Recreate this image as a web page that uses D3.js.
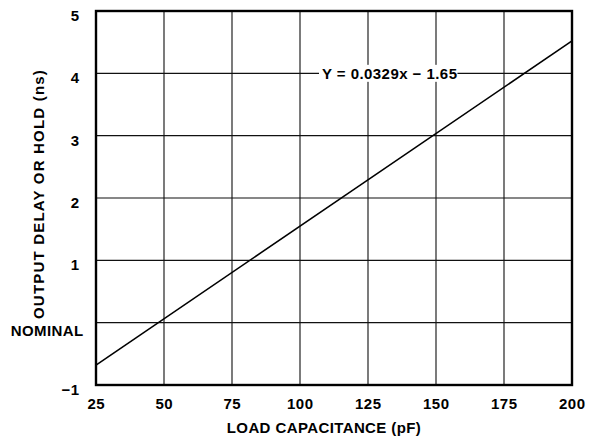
<!DOCTYPE html>
<meta charset="utf-8">
<script src="https://cdn.jsdelivr.net/npm/d3@7"></script>
<style>
body { margin: 0; background: #fff; }
text { font-family: "Liberation Sans", Arial, sans-serif; font-weight: bold; fill: #000; }
</style>
<body>
<script>

// data
var xTicks = [25, 50, 75, 100, 125, 150, 175, 200];
var yTicks = [-1, 0, 1, 2, 3, 4, 5];
var yTickLabels = ["\u22121", "NOMINAL", "1", "2", "3", "4", "5"];
var lineX = [25, 200];
var lineY = [-0.68, 4.52];
var equation = "Y = 0.0329x \u2212  1.65";

var width = 600,
    height = 440,
    margin = {top: 11, right: 28, bottom: 55, left: 96};

var x = d3.scaleLinear().domain([25, 200]).range([margin.left, width - margin.right]);
var y = d3.scaleLinear().domain([-1, 5]).range([height - margin.bottom, margin.top]);

var svg = d3.select("body").append("svg")
    .attr("width", width)
    .attr("height", height);

// grid
svg.append("g").selectAll("line")
    .data(xTicks)
    .enter().append("line")
    .attr("x1", function(d) { return x(d); })
    .attr("x2", function(d) { return x(d); })
    .attr("y1", y(-1))
    .attr("y2", y(5))
    .attr("stroke", "#222")
    .attr("stroke-width", 1.2);

svg.append("g").selectAll("line")
    .data(yTicks)
    .enter().append("line")
    .attr("x1", x(25))
    .attr("x2", x(200))
    .attr("y1", function(d) { return y(d); })
    .attr("y2", function(d) { return y(d); })
    .attr("stroke", "#111")
    .attr("stroke-width", 1.2);

// the fitted line
var pts = lineX.map(function(d, i) { return [d, lineY[i]]; });
svg.append("path")
    .datum(pts)
    .attr("fill", "none")
    .attr("stroke", "#000")
    .attr("stroke-width", 1.6)
    .attr("d", d3.line().x(function(d) { return x(d[0]); }).y(function(d) { return y(d[1]); }));

// equation label with white box
var eq = svg.append("text")
    .attr("x", 322)
    .attr("y", y(4) + 5.5)
    .style("font-size", "15px")
    .style("letter-spacing", "0.45px")
    .text(equation);
var bb = eq.node().getBBox();
svg.insert("rect", "text")
    .attr("x", bb.x - 3)
    .attr("y", bb.y)
    .attr("width", bb.width + 3)
    .attr("height", bb.height)
    .attr("fill", "#fff");

// frame
svg.append("rect")
    .attr("x", x(25))
    .attr("y", y(5))
    .attr("width", x(200) - x(25))
    .attr("height", y(-1) - y(5))
    .attr("fill", "none")
    .attr("stroke", "#000")
    .attr("stroke-width", 2.4);

// tick labels
svg.append("g").selectAll("text")
    .data(xTicks)
    .enter().append("text")
    .attr("x", function(d) { return x(d) + 0.3; })
    .attr("y", y(-1) + 24)
    .attr("text-anchor", "middle")
    .style("font-size", "15px")
    .style("letter-spacing", "0.5px")
    .text(function(d) { return d; });

svg.append("g").selectAll("text")
    .data(yTicks)
    .enter().append("text")
    .attr("x", function(d) { return d === 0 ? 83.5 : 79.5; })
    .attr("y", function(d) { return y(d) + (d === 0 ? 13.5 : 10); })
    .attr("text-anchor", "end")
    .style("font-size", "15px")
    .style("letter-spacing", "0.4px")
    .text(function(d, i) { return yTickLabels[i]; });

// axis titles
svg.append("text")
    .attr("x", 324)
    .attr("y", 433)
    .attr("text-anchor", "middle")
    .style("font-size", "15px")
    .style("letter-spacing", "0.4px")
    .text("LOAD CAPACITANCE (pF)");

svg.append("text")
    .attr("transform", "translate(44," + 194 + ") rotate(-90)")
    .attr("text-anchor", "middle")
    .style("font-size", "15px")
    .style("letter-spacing", "1.2px")
    .text("OUTPUT DELAY OR HOLD (ns)");

</script>
</body>
</html>
